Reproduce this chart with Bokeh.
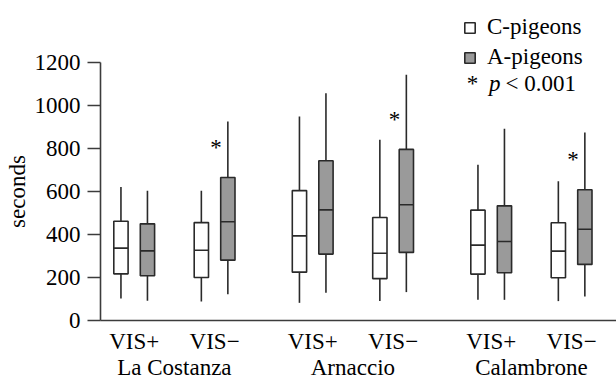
from bokeh.plotting import figure
from bokeh.models import (ColumnDataSource, Range1d, LinearAxis, FixedTicker,
                          Legend, LegendItem, Label)
from bokeh.core.properties import value
from bokeh.embed import file_html
from bokeh.resources import INLINE

# ---------------- data ----------------
sites = ["La Costanza", "Arnaccio", "Calambrone"]
conditions = ["VIS+", "VIS\u2212"]
groups = ["C-pigeons", "A-pigeons"]

# order: LaC VIS+, LaC VIS-, Arn VIS+, Arn VIS-, Cal VIS+, Cal VIS-
c_low = [100, 86, 80, 88, 94, 88]
c_q1 = [215, 198, 223, 193, 214, 197]
c_med = [335, 325, 392, 311, 349, 321]
c_q3 = [460, 454, 603, 478, 512, 453]
c_high = [620, 602, 948, 840, 723, 647]

a_low = [90, 120, 127, 130, 94, 110]
a_q1 = [206, 279, 307, 315, 220, 259]
a_med = [322, 458, 513, 537, 366, 423]
a_q3 = [448, 664, 742, 795, 532, 607]
a_high = [602, 925, 1057, 1143, 891, 874]

significant = [False, True, False, True, False, True]

y_ticks = [0, 200, 400, 600, 800, 1000, 1200]

# ---------------- layout helpers ----------------
W, H = 616, 380
SITE_GAP = 178.5
COND_GAP = 80.4
SPECIES_OFF = 13.25
BOX_W = 14.3
PX_PER_UNIT = 257.5 / 1200.0      # vertical scale
ZERO_FROM_TOP = 319.5             # px from canvas top to y = 0
FIRST_PAIR_FROM_LEFT = 133.7      # px from canvas left to first pair centre
AXIS_FROM_LEFT = 100              # px from canvas left to y axis
COND_LABEL_PX = 21.5              # condition labels below y = 0
SITE_LABEL_PX = 47                # site labels below y = 0
STAR_GAP = 140                    # asterisk above the upper quartile
FONT = "Liberation Serif"
FS = "23px"
LINE = "#2a2a2a"
AXIS = "#3c3c3c"
GRAY = "#9a9a9a"

pair_x = [round(s * SITE_GAP + c * COND_GAP, 2)
          for s in range(len(sites)) for c in range(len(conditions))]
pair_labels = [cond for _ in sites for cond in conditions]
site_x = [round(s * SITE_GAP + COND_GAP / 2, 2) for s in range(len(sites))]

x0 = -FIRST_PAIR_FROM_LEFT
x1 = W - FIRST_PAIR_FROM_LEFT
y_lo = -(H - ZERO_FROM_TOP) / PX_PER_UNIT
y_hi = ZERO_FROM_TOP / PX_PER_UNIT
y_axis_x = AXIS_FROM_LEFT - FIRST_PAIR_FROM_LEFT

p = figure(width=W, height=H, output_backend="svg", toolbar_location=None,
           x_range=Range1d(x0, x1), y_range=Range1d(y_lo, y_hi),
           x_axis_type=None, y_axis_type=None,
           min_border_left=0, min_border_right=0, min_border_top=0,
           min_border_bottom=0, outline_line_color=None)
p.grid.visible = False
p.background_fill_color = "white"


def make_source(low, q1, med, q3, high, off):
    xs = [x + off for x in pair_x]
    return ColumnDataSource(dict(
        x=xs, low=low, q1=q1, med=med, q3=q3, high=high,
        x0=[x - BOX_W / 2 for x in xs], x1=[x + BOX_W / 2 for x in xs]))


src_c = make_source(c_low, c_q1, c_med, c_q3, c_high, -SPECIES_OFF)
src_a = make_source(a_low, a_q1, a_med, a_q3, a_high, SPECIES_OFF)

renderers = {}
for name, src, fill in [("C", src_c, "white"), ("A", src_a, GRAY)]:
    p.segment(x0="x", y0="low", x1="x", y1="q1", source=src,
              line_color=LINE, line_width=1.6)
    p.segment(x0="x", y0="q3", x1="x", y1="high", source=src,
              line_color=LINE, line_width=1.6)
    r = p.vbar(x="x", width=BOX_W, top="q3", bottom="q1", source=src,
               fill_color=fill, line_color=LINE, line_width=1.6)
    p.segment(x0="x0", y0="med", x1="x1", y1="med", source=src,
              line_color=LINE, line_width=1.6)
    renderers[name] = r

# significance asterisks
star_src = ColumnDataSource(dict(
    x=[pair_x[i] + 1.5 for i in range(len(pair_x)) if significant[i]],
    y=[a_q3[i] + STAR_GAP for i in range(len(pair_x)) if significant[i]],
    t=["*" for i in range(len(pair_x)) if significant[i]]))
p.text(x="x", y="y", text="t", source=star_src, text_font=value(FONT),
       text_font_size=FS, text_align="center", text_baseline="alphabetic",
       text_color="black")

# category labels under the x axis
cond_src = ColumnDataSource(dict(
    x=pair_x, y=[-COND_LABEL_PX / PX_PER_UNIT] * len(pair_x), t=pair_labels))
p.text(x="x", y="y", text="t", source=cond_src, text_font=value(FONT),
       text_font_size=FS, text_align="center", text_baseline="alphabetic",
       text_color="black")
site_src = ColumnDataSource(dict(
    x=site_x, y=[-SITE_LABEL_PX / PX_PER_UNIT] * len(site_x), t=sites))
p.text(x="x", y="y", text="t", source=site_src, text_font=value(FONT),
       text_font_size=FS, text_align="center", text_baseline="alphabetic",
       text_color="black")

# y axis
yax = LinearAxis(ticker=FixedTicker(ticks=y_ticks), bounds=(0, 1200),
                 axis_label="seconds", fixed_location=y_axis_x)
yax.axis_line_color = AXIS
yax.axis_line_width = 1.6
yax.major_tick_line_color = AXIS
yax.major_tick_line_width = 1.6
yax.major_tick_out = 13
yax.major_tick_in = 0
yax.minor_tick_line_color = None
yax.major_label_standoff = 7
yax.major_label_text_font = FONT
yax.major_label_text_font_size = FS
yax.major_label_text_color = "black"
yax.axis_label_text_font = FONT
yax.axis_label_text_font_size = FS
yax.axis_label_text_font_style = "normal"
yax.axis_label_text_color = "black"
yax.axis_label_standoff = 2
p.add_layout(yax, "left")

# x axis line (its labels are drawn as text above)
xax = LinearAxis(ticker=FixedTicker(ticks=[]), fixed_location=0,
                 bounds=(y_axis_x, x1))
xax.axis_line_color = AXIS
xax.axis_line_width = 1.6
xax.major_tick_line_color = None
xax.minor_tick_line_color = None
xax.major_label_text_font_size = "0px"
p.add_layout(xax, "below")

# legend
legend = Legend(items=[LegendItem(label=groups[0], renderers=[renderers["C"]]),
                       LegendItem(label=groups[1], renderers=[renderers["A"]])],
                location=(463, 310), orientation="vertical",
                glyph_width=13, glyph_height=13, label_standoff=11,
                spacing=4, padding=0, margin=0,
                border_line_color=None, background_fill_alpha=0,
                label_text_font=FONT, label_text_font_size=FS,
                label_text_color="black")
p.add_layout(legend, "center")

for txt, x, style in [("*", 472, "normal"), ("p", 488.5, "italic"),
                      ("< 0.001", 505, "normal")]:
    p.add_layout(Label(x=x, y=297.5, x_units="screen", y_units="screen",
                       text=txt, text_font=FONT, text_font_size=FS,
                       text_font_style=style, text_color="black",
                       text_align="center" if txt == "*" else "left",
                       text_baseline="alphabetic"))

open("out.html", "w").write(file_html(p, INLINE))
